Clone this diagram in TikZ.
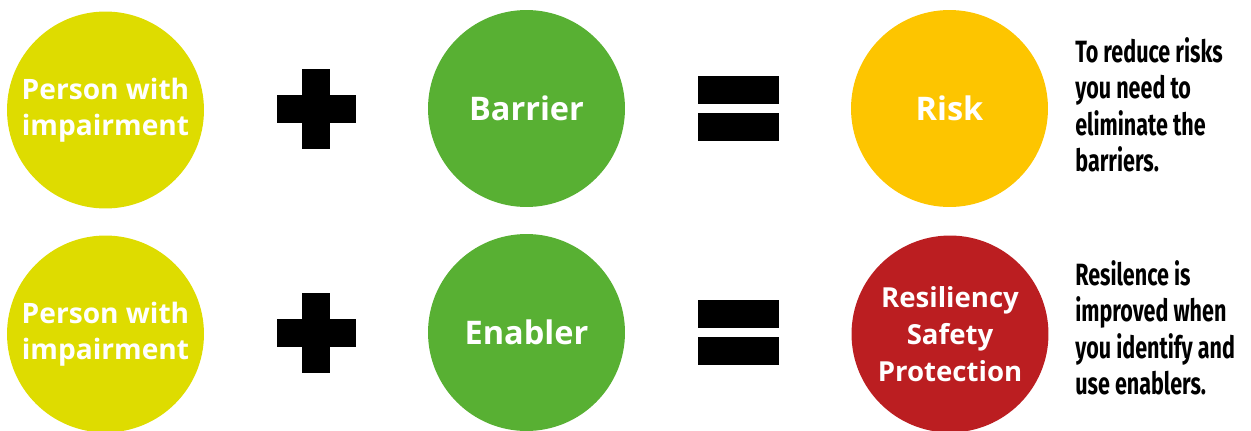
\documentclass[tikz,border=0pt]{standalone}
\usepackage{fontspec}
\setmainfont{Open Sans}
\newfontfamily\condfont[FakeStretch=0.7]{Fira Sans}
\usetikzlibrary{positioning}
\definecolor{personYellow}{HTML}{DEDC00}
\definecolor{barrierGreen}{HTML}{58B033}
\definecolor{riskYellow}{HTML}{FDC500}
\definecolor{safeRed}{HTML}{BB1E21}
\tikzset{
    disc/.style={
        circle,
        inner sep=0pt,
        minimum size=3.94cm,
        align=center,
        text=white,
        font=\bfseries\fontsize{16}{20.5}\selectfont
    },
    bigdisc/.style={
        disc,
        font=\bfseries\fontsize{18.5}{24}\selectfont
    },
    note/.style={
        anchor=north west,
        inner sep=0pt,
        align=left,
        font=\condfont\bfseries\fontsize{17.5}{20.8}\selectfont
    },
    sign/.style={fill=black}
}

\begin{document}
\begin{tikzpicture}[x=0.02cm,y=-0.02cm]
    \useasboundingbox (0,0) rectangle (1251,430);

    % first row
    \node[disc, fill=personYellow] (p1) at (105.5,110) {Person with\\impairment};
    \node[bigdisc, fill=barrierGreen] (barrier) at (526.5,108.5) {Barrier};
    \node[bigdisc, fill=riskYellow] (risk) at (949.5,108.5) {Risk};
    \node[note] (riskNote) at (1075,37)
        {To reduce risks\\you need to\\eliminate the\\barriers.};

    % second row
    \node[disc, fill=personYellow] (p2) at (105.5,334) {Person with\\impairment};
    \node[bigdisc, fill=barrierGreen] (enabler) at (526.5,332.5) {Enabler};
    \node[disc, fill=safeRed, font=\bfseries\fontsize{15.7}{21}\selectfont]
        (safety) at (950,334) {Resiliency\\Safety\\Protection};
    \node[note] (safetyNote) at (1075,260)
        {Resilence is\\improved when\\you identify and\\use enablers.};

    % plus and equals signs
    \foreach \y in {108.5,332.5} {
        \fill[sign] (302,\y-40) rectangle (330,\y+40);
        \fill[sign] (277,\y-14) rectangle (356,\y+14);
        \fill[sign] (698,\y-32.5) rectangle (779,\y-4.5);
        \fill[sign] (698,\y+4.5) rectangle (779,\y+32.5);
    }
\end{tikzpicture}
\end{document}
